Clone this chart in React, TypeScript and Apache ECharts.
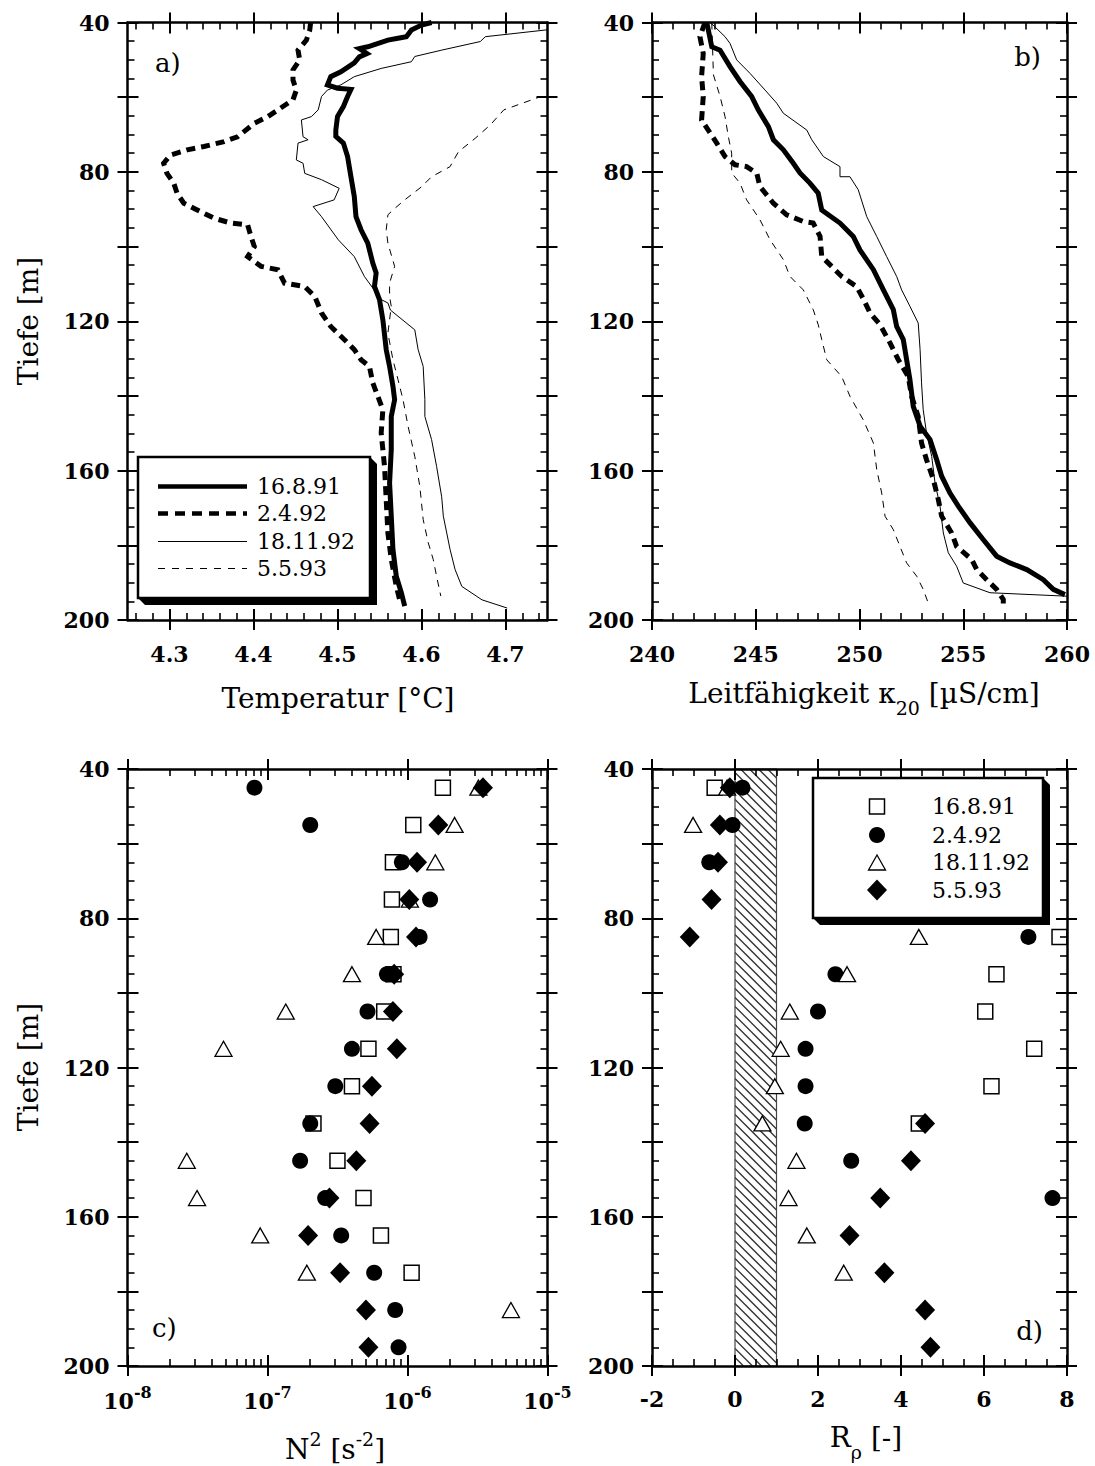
import React, { useEffect, useRef } from 'react';
import * as echarts from 'echarts';

const FONT = '"DejaVu Serif", "Liberation Serif", serif';

// ---------- shared depth axis ----------
const depthMin = 40;
const depthMax = 200;
const depthLabels = [40, 80, 120, 160, 200];
const seriesNames = ['16.8.91', '2.4.92', '18.11.92', '5.5.93'];

// ---------- panel a: temperature profiles [T, depth] ----------
const tempMin = 4.25;
const tempMax = 4.75;
const tempTicks = [4.3, 4.4, 4.5, 4.6, 4.7];
const temp_16_8_91: number[][] = [
  [4.612, 40], [4.6, 40.7], [4.588, 42], [4.582, 43.8], [4.572, 44.2], [4.56, 44.7], [4.536, 46.5], [4.526, 47],
  [4.535, 48.3], [4.526, 49.2], [4.52, 50.8], [4.504, 53.2], [4.492, 54.5], [4.488, 56.7], [4.5, 57.6], [4.516, 57.9],
  [4.512, 59.8], [4.507, 62.5], [4.5, 65.2], [4.498, 68.8], [4.498, 70.5], [4.507, 72.3], [4.512, 75.9], [4.516, 81.3],
  [4.52, 86.6], [4.522, 92], [4.528, 95.5], [4.536, 99.1], [4.542, 104.4], [4.546, 107.1], [4.544, 110.7], [4.55, 114.2],
  [4.554, 119.6], [4.558, 127.6], [4.562, 132.1], [4.566, 137.4], [4.568, 141], [4.564, 145.5], [4.564, 154.4],
  [4.562, 163.3], [4.564, 172.2], [4.566, 181.1], [4.57, 188.3], [4.576, 192.7], [4.58, 196.3],
];
const temp_2_4_92: number[][] = [
  [4.468, 40], [4.467, 42], [4.463, 44.7], [4.453, 47.4], [4.455, 50], [4.447, 52.7], [4.447, 55.4], [4.451, 58.1],
  [4.447, 60.7], [4.429, 63.4], [4.417, 65.2], [4.401, 67], [4.381, 70.6], [4.365, 71.9], [4.341, 73.2], [4.321, 74.1],
  [4.301, 75.5], [4.293, 77.7], [4.297, 80.4], [4.305, 83], [4.309, 85.7], [4.317, 88.4], [4.333, 90.2], [4.353, 92.4],
  [4.373, 93.7], [4.393, 94.2], [4.397, 97.3], [4.401, 100], [4.393, 102.7], [4.409, 105.3], [4.429, 106.2],
  [4.437, 109.8], [4.461, 110.7], [4.473, 113.4], [4.481, 117.8], [4.492, 121.4], [4.508, 124.9], [4.52, 127.6],
  [4.528, 130.3], [4.538, 132.1], [4.542, 136.5], [4.548, 140.1], [4.554, 143.7], [4.552, 149.9], [4.556, 158.9],
  [4.558, 167.8], [4.56, 176.7], [4.564, 183.8], [4.57, 191], [4.575, 195.5],
];
const temp_18_11_92: number[][] = [
  [4.78, 41.2], [4.676, 43.8], [4.67, 45.1], [4.624, 47.4], [4.592, 49.1], [4.588, 50.5], [4.552, 52.3], [4.52, 54.5],
  [4.504, 56.7], [4.488, 58.1], [4.481, 59.8], [4.477, 63.4], [4.469, 65.2], [4.457, 66.1], [4.459, 70.6],
  [4.465, 71.4], [4.453, 72.3], [4.451, 76.8], [4.459, 77.7], [4.461, 80.4], [4.481, 82.1], [4.502, 84.4],
  [4.496, 87.5], [4.471, 89.3], [4.481, 92], [4.501, 98.2], [4.52, 102.7], [4.532, 108], [4.552, 114.2],
  [4.56, 115.1], [4.563, 117], [4.592, 122.3], [4.596, 127.6], [4.602, 132.1], [4.604, 141], [4.604, 145.5],
  [4.612, 151.7], [4.618, 158.9], [4.624, 167], [4.626, 172.2], [4.634, 181.1], [4.64, 186.5], [4.648, 191],
  [4.672, 194.6], [4.702, 196.8],
];
const temp_5_5_93: number[][] = [
  [4.76, 59.6], [4.74, 60], [4.698, 63.4], [4.682, 67.4], [4.664, 71], [4.644, 74.6], [4.634, 78.6], [4.612, 81.3],
  [4.6, 84], [4.58, 87.5], [4.566, 90.2], [4.56, 91.5], [4.558, 95.5], [4.56, 99.1], [4.568, 105.3], [4.562, 109.8],
  [4.562, 113.4], [4.564, 116], [4.56, 123.2], [4.566, 130.3], [4.572, 135.6], [4.578, 141], [4.584, 148.1],
  [4.592, 156.2], [4.598, 164.2], [4.602, 173.1], [4.608, 179.3], [4.614, 183.8], [4.618, 188.3], [4.623, 193.6],
];

// ---------- panel b: conductivity profiles [kappa20, depth] ----------
const condMin = 240;
const condMax = 260;
const cond_16_8_91: number[][] = [
  [242.64, 40], [242.88, 46.5], [243.28, 47.4], [243.76, 51.8], [244.24, 55.8], [244.8, 59.8], [245.12, 63.4],
  [245.61, 67.9], [245.85, 71.4], [246.33, 74.1], [246.81, 77.7], [247.13, 80.3], [247.61, 83], [248.01, 85.7],
  [248.18, 90.2], [249.06, 93.7], [249.7, 97.3], [250.02, 100.9], [250.67, 106.2], [251.15, 111.6], [251.63, 116.9],
  [251.79, 121.4], [252.11, 124.9], [252.27, 130.3], [252.43, 135.6], [252.59, 142.8], [252.92, 148.1],
  [253.4, 151.7], [253.72, 157.1], [253.96, 161.5], [254.36, 166], [254.76, 169.5], [255.33, 174], [255.97, 178.5],
  [256.61, 182.9], [257.25, 184.7], [258.06, 186.5], [258.86, 189.2], [259.34, 191.8], [259.9, 193.2],
];
const cond_2_4_92: number[][] = [
  [242.55, 40], [242.31, 43.8], [242.47, 48.3], [242.39, 54.5], [242.47, 59.8], [242.39, 66.1], [242.71, 68.8],
  [243.12, 72.3], [243.52, 75.9], [244.0, 78.1], [244.56, 78.6], [245.05, 80.4], [245.2, 83.9], [245.85, 88.4],
  [246.49, 91.5], [247.29, 93.3], [247.77, 93.7], [248.1, 97.3], [248.18, 102.7], [248.66, 105.3], [249.14, 108],
  [249.86, 110.7], [250.2, 114.2], [250.51, 117.8], [250.99, 120.9], [251.47, 125.8], [251.87, 130.3],
  [252.35, 134.8], [252.51, 140.1], [252.83, 145.5], [252.99, 152.6], [253.23, 157.1], [253.56, 162.4],
  [253.8, 167.8], [253.96, 172.2], [254.44, 176.7], [254.68, 180.3], [255.41, 183.8], [255.65, 186.5],
  [256.13, 189.2], [256.61, 191.8], [256.93, 194.5], [256.93, 195.6],
];
const cond_18_11_92: number[][] = [
  [242.8, 40], [243.0, 41], [243.52, 43.8], [243.76, 45.6], [244.08, 50], [244.72, 53.6], [245.45, 58.1],
  [246.01, 61.6], [246.33, 64.3], [247.46, 68.8], [247.7, 71.4], [248.26, 75.9], [249.06, 78.6], [249.06, 81.3],
  [249.54, 81.3], [249.94, 84.8], [250.35, 92], [250.83, 97.3], [251.31, 102.7], [251.79, 108], [252.03, 111.6],
  [252.43, 116], [252.83, 120.5], [252.92, 127.6], [252.99, 136.5], [253.07, 143.7], [253.23, 149.9],
  [253.48, 156.2], [253.64, 163.3], [253.88, 169.5], [254.04, 176.7], [254.28, 182], [254.68, 185.6],
  [255.0, 190.1], [256.29, 192.7], [259.9, 193.6], [261, 193.7],
];
const cond_5_5_93: number[][] = [
  [242.88, 40], [242.96, 54], [243.28, 59.8], [243.52, 65.2], [243.68, 70.6], [243.84, 75], [243.84, 80.3],
  [244.24, 83], [244.56, 87.5], [245.2, 92.8], [245.69, 98.2], [246.33, 103.5], [246.65, 108], [247.29, 111.6],
  [247.77, 116.9], [248.01, 120.9], [248.18, 124.9], [248.42, 130.3], [249.14, 134.8], [249.54, 140.1],
  [250.18, 146.4], [250.67, 152.6], [250.83, 159.7], [251.07, 166], [251.23, 172.2], [251.63, 175.8],
  [251.95, 180.3], [252.27, 184.7], [252.76, 188.3], [253.07, 191.8], [253.31, 195.4],
];

// ---------- panel c & d: layer values at depths ----------
const rowDepths = [45, 55, 65, 75, 85, 95, 105, 115, 125, 135, 145, 155, 165, 175, 185, 195];

const n2Min = 1e-8;
const n2Max = 1e-5;
const n2_16_8_91 = [1.79e-6, 1.1e-6, 7.87e-7, 7.74e-7, 7.6e-7, 7.94e-7, 6.82e-7, 5.26e-7, 4.01e-7, 2.13e-7, 3.16e-7, 4.85e-7, 6.46e-7, 1.07e-6, null, null];
const n2_2_4_92 = [8.07e-8, 2.02e-7, 9.12e-7, 1.45e-6, 1.22e-6, 7.13e-7, 5.18e-7, 4.01e-7, 3.05e-7, 2.02e-7, 1.71e-7, 2.58e-7, 3.36e-7, 5.78e-7, 8.17e-7, 8.63e-7];
const n2_18_11_92 = [3.21e-6, 2.17e-6, 1.58e-6, 1.04e-6, 5.97e-7, 4.01e-7, 1.35e-7, 4.85e-8, null, null, 2.65e-8, 3.14e-8, 8.87e-8, 1.91e-7, 5.48e-6, null];
const n2_5_5_93 = [3.46e-6, 1.66e-6, 1.17e-6, 1.03e-6, 1.15e-6, 8.03e-7, 7.87e-7, 8.39e-7, 5.57e-7, 5.36e-7, 4.31e-7, 2.77e-7, 1.95e-7, 3.3e-7, 5.05e-7, 5.26e-7];

const rhoMin = -2;
const rhoMax = 8;
const rhoBand = [0, 1];
const rho_16_8_91 = [-0.49, null, null, null, 7.82, 6.3, 6.03, 7.21, 6.18, 4.43, null, null, null, null, null, null];
const rho_2_4_92 = [0.18, -0.06, -0.62, null, 7.07, 2.42, 2.0, 1.7, 1.7, 1.68, 2.8, 7.65, null, null, null, null];
const rho_18_11_92 = [-0.19, -1.01, null, null, 4.43, 2.7, 1.32, 1.1, 0.96, 0.66, 1.48, 1.29, 1.73, 2.62, null, null];
const rho_5_5_93 = [-0.125, -0.365, -0.41, -0.565, -1.09, null, null, null, null, 4.58, 4.24, 3.5, 2.76, 3.6, 4.58, 4.71];

// ---------- tick positions ----------
const tempMinorTicks: number[] = [];
for (let i = 0; i <= 24; i++) {
  const v = Math.round((4.26 + 0.02 * i) * 1000) / 1000;
  if (Math.abs(v * 10 - Math.round(v * 10)) > 1e-6) tempMinorTicks.push(v);
}
const n2MinorTicks: number[] = [];
for (let e = -8; e <= -6; e++) for (let k = 2; k <= 9; k++) n2MinorTicks.push(k * Math.pow(10, e));

// ---------- helpers ----------
const tickLine = { color: '#000', width: 2 };
const minorLine = { color: '#000', width: 1.6 };
const labelBase = { fontFamily: FONT, fontSize: 22, fontWeight: 'bold', color: '#000' };

function buildAxes(list: any[], dim: 'x' | 'y', gridIndex: number, spec: any): number {
  const start = list.length;
  const sides = dim === 'x' ? ['bottom', 'top'] : ['left', 'right'];
  sides.forEach((pos, si) => {
    const base: any = {
      gridIndex, type: spec.type, position: pos, min: spec.min, max: spec.max,
      inverse: !!spec.inverse, silent: true, splitLine: { show: false }, splitArea: { show: false },
      axisPointer: { show: false }, z: 10,
    };
    if (spec.type === 'log') base.logBase = 10;
    if (spec.interval != null) base.interval = spec.interval;
    const major = spec.majorValues ? { customValues: spec.majorValues } : {};
    list.push({
      ...base,
      axisLine: { show: true, onZero: false, lineStyle: { color: '#000', width: 2.5 } },
      axisTick: { show: true, inside: false, length: 10, lineStyle: tickLine, ...major },
      minorTick: { show: false },
      axisLabel: si === 0 ? { show: true, ...labelBase, ...spec.label } : { show: false },
    });
    list.push({
      ...base,
      axisLine: { show: false, onZero: false },
      axisTick: { show: true, inside: true, length: 11, lineStyle: tickLine, ...major },
      minorTick: spec.minorSplit
        ? { show: true, splitNumber: spec.minorSplit, length: 7, lineStyle: minorLine }
        : { show: false },
      axisLabel: { show: false },
    });
    if (spec.minorValues) {
      list.push({
        ...base,
        axisLine: { show: false, onZero: false },
        axisTick: { show: true, inside: true, length: 7, lineStyle: minorLine, customValues: spec.minorValues },
        minorTick: { show: false },
        axisLabel: { show: false },
      });
    }
  });
  return start;
}

const depthSpec = {
  type: 'value', min: depthMin, max: depthMax, interval: 20, inverse: true, minorSplit: 4,
  label: {
    customValues: depthLabels,
    formatter: (v: number) => (depthLabels.indexOf(v) >= 0 ? String(v) : ''),
    margin: 18,
  },
};

const lineStyles = [
  { color: '#000', width: 5, type: 'solid' },
  { color: '#000', width: 5, type: [9, 6] },
  { color: '#000', width: 1, type: 'solid' },
  { color: '#000', width: 1, type: [7, 6] },
];

function rows(vals: (number | null)[]) {
  const out: number[][] = [];
  vals.forEach((v, i) => {
    if (v != null) out.push([v, rowDepths[i]]);
  });
  return out;
}

const markerStyles = [
  { symbol: 'rect', symbolSize: 15, itemStyle: { color: '#fff', borderColor: '#000', borderWidth: 1.5, opacity: 1 } },
  { symbol: 'circle', symbolSize: 16, itemStyle: { color: '#000', opacity: 1 } },
  { symbol: 'triangle', symbolSize: [17, 15], itemStyle: { color: '#fff', borderColor: '#000', borderWidth: 1.3, opacity: 1 } },
  { symbol: 'diamond', symbolSize: [20, 21], itemStyle: { color: '#000', opacity: 1 } },
];

function txt(x: number, y: number, text: string, extra: any = {}, el: any = {}) {
  const align = extra.align || 'center';
  const va = extra.verticalAlign || 'middle';
  return {
    type: 'text', x, y, z: 100, silent: true, ...el,
    style: {
      text, fontFamily: FONT, fontSize: 28, fill: '#000',
      align, verticalAlign: va, textAlign: align, textVerticalAlign: va, ...extra,
    },
  };
}

function buildOption() {
  const xAxes: any[] = [];
  const yAxes: any[] = [];

  // panel a
  const ax = buildAxes(xAxes, 'x', 0, {
    type: 'value', min: tempMin, max: tempMax, majorValues: tempTicks, minorValues: tempMinorTicks,
    label: { customValues: tempTicks, formatter: (v: number) => v.toFixed(1), margin: 23 },
  });
  const ay = buildAxes(yAxes, 'y', 0, depthSpec);
  // panel b
  const bx = buildAxes(xAxes, 'x', 1, {
    type: 'value', min: condMin, max: condMax, interval: 5, minorSplit: 5,
    label: { formatter: (v: number) => String(v), margin: 23 },
  });
  const by = buildAxes(yAxes, 'y', 1, depthSpec);
  // panel c
  const cx = buildAxes(xAxes, 'x', 2, {
    type: 'log', min: n2Min, max: n2Max, minorValues: n2MinorTicks,
    label: {
      margin: 18,
      formatter: (v: number) => `{b|10}{s|${Math.round(Math.log10(v))}}`,
      rich: {
        b: { fontFamily: FONT, fontSize: 22, fontWeight: 'bold', color: '#000', lineHeight: 28, verticalAlign: 'bottom' },
        s: { fontFamily: FONT, fontSize: 16, fontWeight: 'bold', color: '#000', lineHeight: 16, verticalAlign: 'top' },
      },
    },
  });
  const cy = buildAxes(yAxes, 'y', 2, depthSpec);
  // panel d
  const dx = buildAxes(xAxes, 'x', 3, {
    type: 'value', min: rhoMin, max: rhoMax, interval: 2, minorSplit: 4,
    label: { formatter: (v: number) => String(v), margin: 22 },
  });
  const dy = buildAxes(yAxes, 'y', 3, depthSpec);

  const series: any[] = [];
  const profA = [temp_16_8_91, temp_2_4_92, temp_18_11_92, temp_5_5_93];
  const profB = [cond_16_8_91, cond_2_4_92, cond_18_11_92, cond_5_5_93];
  profA.forEach((d, i) =>
    series.push({
      type: 'line', name: seriesNames[i], xAxisIndex: ax, yAxisIndex: ay, data: d,
      symbol: 'none', showSymbol: false, clip: true, silent: true, z: 3,
      lineStyle: { ...lineStyles[i], cap: 'butt', join: 'miter', opacity: 1 },
    })
  );
  profB.forEach((d, i) =>
    series.push({
      type: 'line', name: seriesNames[i], xAxisIndex: bx, yAxisIndex: by, data: d,
      symbol: 'none', showSymbol: false, clip: true, silent: true, z: 3,
      lineStyle: { ...lineStyles[i], cap: 'butt', join: 'miter', opacity: 1 },
    })
  );

  // hatched stability band in panel d
  series.push({
    type: 'custom', xAxisIndex: dx, yAxisIndex: dy, z: 1, silent: true,
    data: [[rhoBand[0], rhoBand[1]]],
    renderItem: (_p: any, api: any) => {
      const tl = api.coord([api.value(0), depthMin]);
      const br = api.coord([api.value(1), depthMax]);
      const x0 = Math.min(tl[0], br[0]);
      const x1 = Math.max(tl[0], br[0]);
      const y0 = Math.min(tl[1], br[1]);
      const y1 = Math.max(tl[1], br[1]);
      const children: any[] = [];
      const step = 9;
      for (let c = y0 - x1; c <= y1 - x0; c += step) {
        const xs = Math.max(x0, y0 - c);
        const xe = Math.min(x1, y1 - c);
        if (xe > xs) {
          children.push({
            type: 'line',
            shape: { x1: xs, y1: xs + c, x2: xe, y2: xe + c },
            style: { stroke: '#333', lineWidth: 1.3 },
          });
        }
      }
      children.push({
        type: 'rect',
        shape: { x: x0, y: y0, width: x1 - x0, height: y1 - y0 },
        style: { fill: 'none', stroke: '#444', lineWidth: 1.2 },
      });
      return { type: 'group', children };
    },
  });

  const n2Sets = [n2_16_8_91, n2_2_4_92, n2_18_11_92, n2_5_5_93];
  const rhoSets = [rho_16_8_91, rho_2_4_92, rho_18_11_92, rho_5_5_93];
  n2Sets.forEach((v, i) =>
    series.push({
      type: 'scatter', name: seriesNames[i], xAxisIndex: cx, yAxisIndex: cy, data: rows(v),
      silent: true, z: 4, ...markerStyles[i],
    })
  );
  rhoSets.forEach((v, i) =>
    series.push({
      type: 'scatter', name: seriesNames[i], xAxisIndex: dx, yAxisIndex: dy, data: rows(v),
      silent: true, z: 4, ...markerStyles[i],
    })
  );

  // ---------- graphics: titles, labels, legends ----------
  const g: any[] = [];
  g.push(txt(28, 321, 'Tiefe [m]', {}, { rotation: Math.PI / 2 }));
  g.push(txt(28, 1067, 'Tiefe [m]', {}, { rotation: Math.PI / 2 }));
  g.push(txt(338, 698, 'Temperatur [°C]'));
  g.push(
    txt(864, 698, '{n|Leitfähigkeit κ}{sub|20}{n| [µS/cm]}', {
      rich: {
        n: { fontFamily: FONT, fontSize: 28, lineHeight: 38, verticalAlign: 'top', fill: '#000' },
        sub: { fontFamily: FONT, fontSize: 19, lineHeight: 19, verticalAlign: 'bottom', fill: '#000' },
      },
    })
  );
  g.push(
    txt(335, 1446, '{n|N}{sup|2}{n| [s}{sup|-2}{n|]}', {
      rich: {
        n: { fontFamily: FONT, fontSize: 28, lineHeight: 34, verticalAlign: 'bottom', fill: '#000' },
        sup: { fontFamily: FONT, fontSize: 19, lineHeight: 19, verticalAlign: 'top', fill: '#000' },
      },
    })
  );
  g.push(
    txt(866, 1442, '{n|R}{sub|ρ}{n| [-]}', {
      rich: {
        n: { fontFamily: FONT, fontSize: 28, lineHeight: 38, verticalAlign: 'top', fill: '#000' },
        sub: { fontFamily: FONT, fontSize: 19, lineHeight: 19, verticalAlign: 'bottom', fill: '#000' },
      },
    })
  );
  g.push(txt(155, 63, 'a)', { align: 'left', fontSize: 26 }));
  g.push(txt(1041, 57, 'b)', { align: 'right', fontSize: 26 }));
  g.push(txt(152, 1328, 'c)', { align: 'left', fontSize: 26 }));
  g.push(txt(1043, 1331, 'd)', { align: 'right', fontSize: 26 }));

  // legend a
  g.push({ type: 'polygon', z: 90, silent: true, shape: { points: [[370, 457], [377, 464], [377, 605], [145, 605], [138, 598]] }, style: { fill: '#000' } });
  g.push({ type: 'rect', z: 91, silent: true, shape: { x: 138, y: 457, width: 232, height: 141 }, style: { fill: '#fff', stroke: '#000', lineWidth: 2.5 } });
  const legARows = [486.5, 513.5, 541.5, 568.5];
  seriesNames.forEach((name, i) => {
    const ls = lineStyles[i];
    g.push({
      type: 'line', z: 92, silent: true,
      shape: { x1: 158, y1: legARows[i], x2: 247, y2: legARows[i] },
      style: { stroke: '#000', lineWidth: i < 2 ? 4.5 : 1, lineDash: Array.isArray(ls.type) ? (i === 1 ? [10, 7] : [7, 7]) : null },
    });
    g.push(txt(257, legARows[i], name, { align: 'left', fontSize: 22 }, { z: 93 }));
  });

  // legend d
  g.push({ type: 'polygon', z: 90, silent: true, shape: { points: [[1043, 778], [1050, 785], [1050, 925], [820, 925], [813, 918]] }, style: { fill: '#000' } });
  g.push({ type: 'rect', z: 91, silent: true, shape: { x: 813, y: 778, width: 230, height: 140 }, style: { fill: '#fff', stroke: '#000', lineWidth: 2.5 } });
  const legDRows = [806.5, 835, 862.5, 890];
  const sx = 877;
  g.push({ type: 'rect', z: 92, silent: true, shape: { x: sx - 7.5, y: legDRows[0] - 7.5, width: 15, height: 15 }, style: { fill: '#fff', stroke: '#000', lineWidth: 1.5 } });
  g.push({ type: 'circle', z: 92, silent: true, shape: { cx: sx, cy: legDRows[1], r: 8 }, style: { fill: '#000' } });
  g.push({ type: 'polygon', z: 92, silent: true, shape: { points: [[sx, legDRows[2] - 7.5], [sx + 8.5, legDRows[2] + 7.5], [sx - 8.5, legDRows[2] + 7.5]] }, style: { fill: '#fff', stroke: '#000', lineWidth: 1.3 } });
  g.push({ type: 'polygon', z: 92, silent: true, shape: { points: [[sx, legDRows[3] - 10.5], [sx + 10, legDRows[3]], [sx, legDRows[3] + 10.5], [sx - 10, legDRows[3]]] }, style: { fill: '#000' } });
  seriesNames.forEach((name, i) => g.push(txt(932, legDRows[i], name, { align: 'left', fontSize: 22 }, { z: 93 })));

  return {
    animation: false,
    backgroundColor: '#fff',
    grid: [
      { left: 127.5, top: 22.5, width: 420, height: 597.5, outerBoundsMode: 'none' },
      { left: 652, top: 22.5, width: 415, height: 597.5, outerBoundsMode: 'none' },
      { left: 127.5, top: 769, width: 420, height: 597, outerBoundsMode: 'none' },
      { left: 652, top: 769, width: 415, height: 597, outerBoundsMode: 'none' },
    ],
    xAxis: xAxes,
    yAxis: yAxes,
    series,
    graphic: { elements: g },
  };
}

export default function App() {
  const ref = useRef<HTMLDivElement>(null);
  useEffect(() => {
    if (!ref.current) return;
    const chart = echarts.init(ref.current, null, { renderer: 'svg' });
    chart.setOption(buildOption() as any);
    return () => chart.dispose();
  }, []);
  return (
    <div
      ref={ref}
      style={{ position: 'fixed', left: 0, top: 0, width: 1095, height: 1466, background: '#fff' }}
    />
  );
}
